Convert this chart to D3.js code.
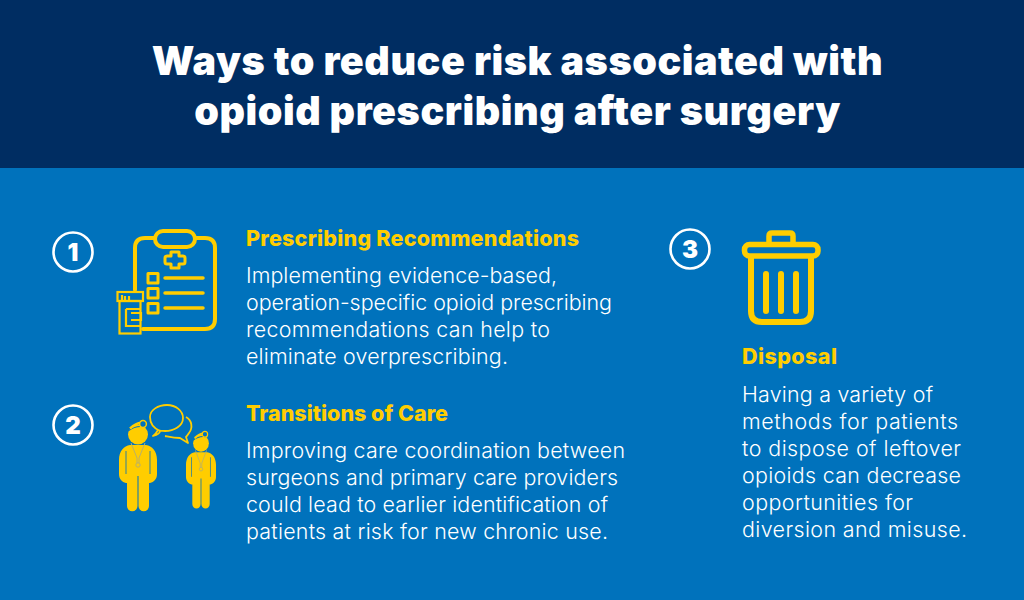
<!DOCTYPE html>
<html><head><meta charset="utf-8">
<script src="https://cdn.jsdelivr.net/npm/d3@7/dist/d3.min.js"></script>
<style>html,body{margin:0;padding:0;background:#0072bc}svg{display:block}</style>
</head><body><div id="c"></div>
<script>
const titleLines = ["Ways to reduce risk associated with","opioid prescribing after surgery"];
const stepNumbers = ["1","2","3"];
const headings = ["Prescribing Recommendations","Transitions of Care","Disposal"];
const bodyOne = ["Implementing evidence-based,","operation-specific opioid prescribing","recommendations can help to","eliminate overprescribing."];
const bodyTwo = ["Improving care coordination between","surgeons and primary care providers","could lead to earlier identification of","patients at risk for new chronic use."];
const bodyThree = ["Having a variety of","methods for patients","to dispose of leftover","opioids can decrease","opportunities for","diversion and misuse."];

const YEL="#ffcd00", NAVY="#002d62", BLUE="#0072bc", F="Inter, sans-serif";
const svg=d3.select("#c").append("svg").attr("width",1024).attr("height",600);
svg.append("rect").attr("width",1024).attr("height",600).attr("fill",BLUE);
svg.append("rect").attr("width",1024).attr("height",168).attr("fill",NAVY);

svg.selectAll(".t").data(titleLines).join("text").attr("class","t")
 .attr("x",517.5).attr("y",(d,i)=>75+i*50).attr("text-anchor","middle")
 .attr("font-family",F).attr("font-weight",900).attr("font-size",39.5).attr("letter-spacing",0.55).attr("fill","#fff").text(d=>d);

const badgeX=[73,73,690], badgeY=[252,425,249];
stepNumbers.forEach((n,i)=>{
 svg.append("circle").attr("cx",badgeX[i]).attr("cy",badgeY[i]).attr("r",19.5).attr("fill","none").attr("stroke","#fff").attr("stroke-width",2.6);
 svg.append("text").attr("x",badgeX[i]).attr("y",badgeY[i]+8.5).attr("text-anchor","middle").attr("font-family",F).attr("font-weight",900).attr("font-size",24).attr("fill","#fff").text(n);
});

const blockX=[246,246,742], headY=[245.5,420.5,364], bodyY=[283,458,402];
const bodies=[bodyOne,bodyTwo,bodyThree];
const headFit=[333,202,95];
const bodyFit=[[311,366,304,262],[379,372,362,362],[191,216,219,219,171,225]];
headings.forEach((h,i)=>{
 svg.append("text").attr("x",blockX[i]).attr("y",headY[i]).attr("font-family",F).attr("font-weight",800).attr("font-size",21.5)
  .attr("textLength",headFit[i]).attr("lengthAdjust","spacing").attr("fill",YEL).text(h);
 bodies[i].forEach((l,j)=>svg.append("text").attr("x",blockX[i]).attr("y",bodyY[i]+j*27).attr("font-family",F).attr("font-weight",300).attr("font-size",21.4)
  .attr("textLength",bodyFit[i][j]).attr("lengthAdjust","spacing").attr("fill","#fff").text(l));
});

// clipboard icon
const g1=svg.append("g").attr("fill","none").attr("stroke",YEL).attr("stroke-width",4).attr("stroke-linecap","round").attr("stroke-linejoin","round");
g1.append("path").attr("d","M155,238H145Q135,238 135,248V290M143,329H205Q215,329 215,319V248Q215,238 205,238H195");
g1.append("rect").attr("x",155).attr("y",231).attr("width",40).attr("height",16).attr("rx",8);
g1.append("path").attr("stroke-width",3).attr("d","M171,252h8v4h4q2,0 2,2v4q0,2 -2,2h-4v4h-8v-4h-4q-2,0 -2,-2v-4q0,-2 2,-2h4z");
[273,288,303].forEach(y=>{
 g1.append("rect").attr("x",148).attr("y",y+.5).attr("width",10).attr("height",9.5).attr("stroke-width",3);
 g1.append("line").attr("x1",165).attr("x2",203).attr("y1",y+5).attr("y2",y+5).attr("stroke-width",3.5);
});
const g1b=svg.append("g").attr("fill","none").attr("stroke",YEL).attr("stroke-width",2.2);
g1b.append("rect").attr("x",117.5).attr("y",292).attr("width",25.5).attr("height",9);
g1b.append("rect").attr("x",119.5).attr("y",301).attr("width",21).attr("height",32.5);
g1b.append("path").attr("d","M122,295v5M125,296v4M129,296v4");
g1b.append("path").attr("d","M126,309H141M126,309V326H141M131,313H141V320H131");

// doctor figures
const person="M-8,-1 C-14,0 -19,5 -19,14 L-19,28 C-19,33 -16,36 -12,37 L-11,37 L-11,60 a5.25,5.25 0 0 0 10.5,0 L-0.5,30 L0.5,30 L0.5,60 a5.25,5.25 0 0 0 10.5,0 L11,37 L12,37 C16,36 19,33 19,28 L19,14 C19,5 14,0 8,-1 Z";
[{x:138,y:446,sx:1,sy:1},{x:201,y:453,sx:.79,sy:.85}].forEach(p=>{
 const g=svg.append("g").attr("transform",`translate(${p.x},${p.y}) scale(${p.sx},${p.sy})`);
 g.append("path").attr("d",person).attr("fill",YEL);
 g.append("path").attr("d","M-12,5V28M12,5V28").attr("stroke",BLUE).attr("stroke-width",1.1).attr("fill","none").attr("opacity",.75);
 g.append("circle").attr("cy",-11.5).attr("r",10).attr("fill",YEL);
 g.append("path").attr("d","M-10,-15 Q-2,-21 7,-19").attr("stroke",BLUE).attr("stroke-width",1.2).attr("fill","none");
 g.append("path").attr("d","M-8,-17.5 Q-2,-23 3,-23").attr("stroke",YEL).attr("stroke-width",2.4).attr("fill","none");
 g.append("circle").attr("cx",5).attr("cy",-22).attr("r",3.4).attr("fill",BLUE).attr("stroke",YEL).attr("stroke-width",1.5);
 g.append("path").attr("d","M-7,-3 L-1,12 M7,-3 L1,12 M-1,12V17 M1,12V17").attr("stroke","#b9b06a").attr("stroke-width",1).attr("fill","none");
 g.append("circle").attr("cy",19).attr("r",2.2).attr("fill","none").attr("stroke","#b9b06a").attr("stroke-width",1);
});
const g2=svg.append("g").attr("fill","none").attr("stroke",YEL).attr("stroke-width",1.8).attr("stroke-linejoin","round");
g2.append("path").attr("d","M160,431 C151,427 150,420 150,417 C150,410 158,405 167,405 C176,405 183,411 183,418 C183,426 174,431 165,431 Q160,431 158,430 Q156,434 153,436 Q160,434 160,431");
g2.append("path").attr("d","M186,417 C192,420 193,428 189,433 Q187,436 186,437 L188,443 L180,438 C174,438 170,437 165,436");

// bin
const g3=svg.append("g").attr("fill","none").attr("stroke",YEL).attr("stroke-linecap","round");
g3.append("path").attr("stroke-width",5.5).attr("stroke-linejoin","round").attr("d","M769,243V236Q769,233 772,233H790Q793,233 793,236V243");
g3.append("rect").attr("x",744.5).attr("y",244.5).attr("width",73.5).attr("height",11.5).attr("rx",5).attr("stroke-width",5.5);
g3.append("path").attr("stroke-width",6).attr("d","M751,258V311Q751,322 762,322H800Q811,322 811,311V258");
[766,781,796].forEach(x=>g3.append("line").attr("x1",x).attr("x2",x).attr("y1",274).attr("y2",311).attr("stroke-width",6));
</script></body></html>
